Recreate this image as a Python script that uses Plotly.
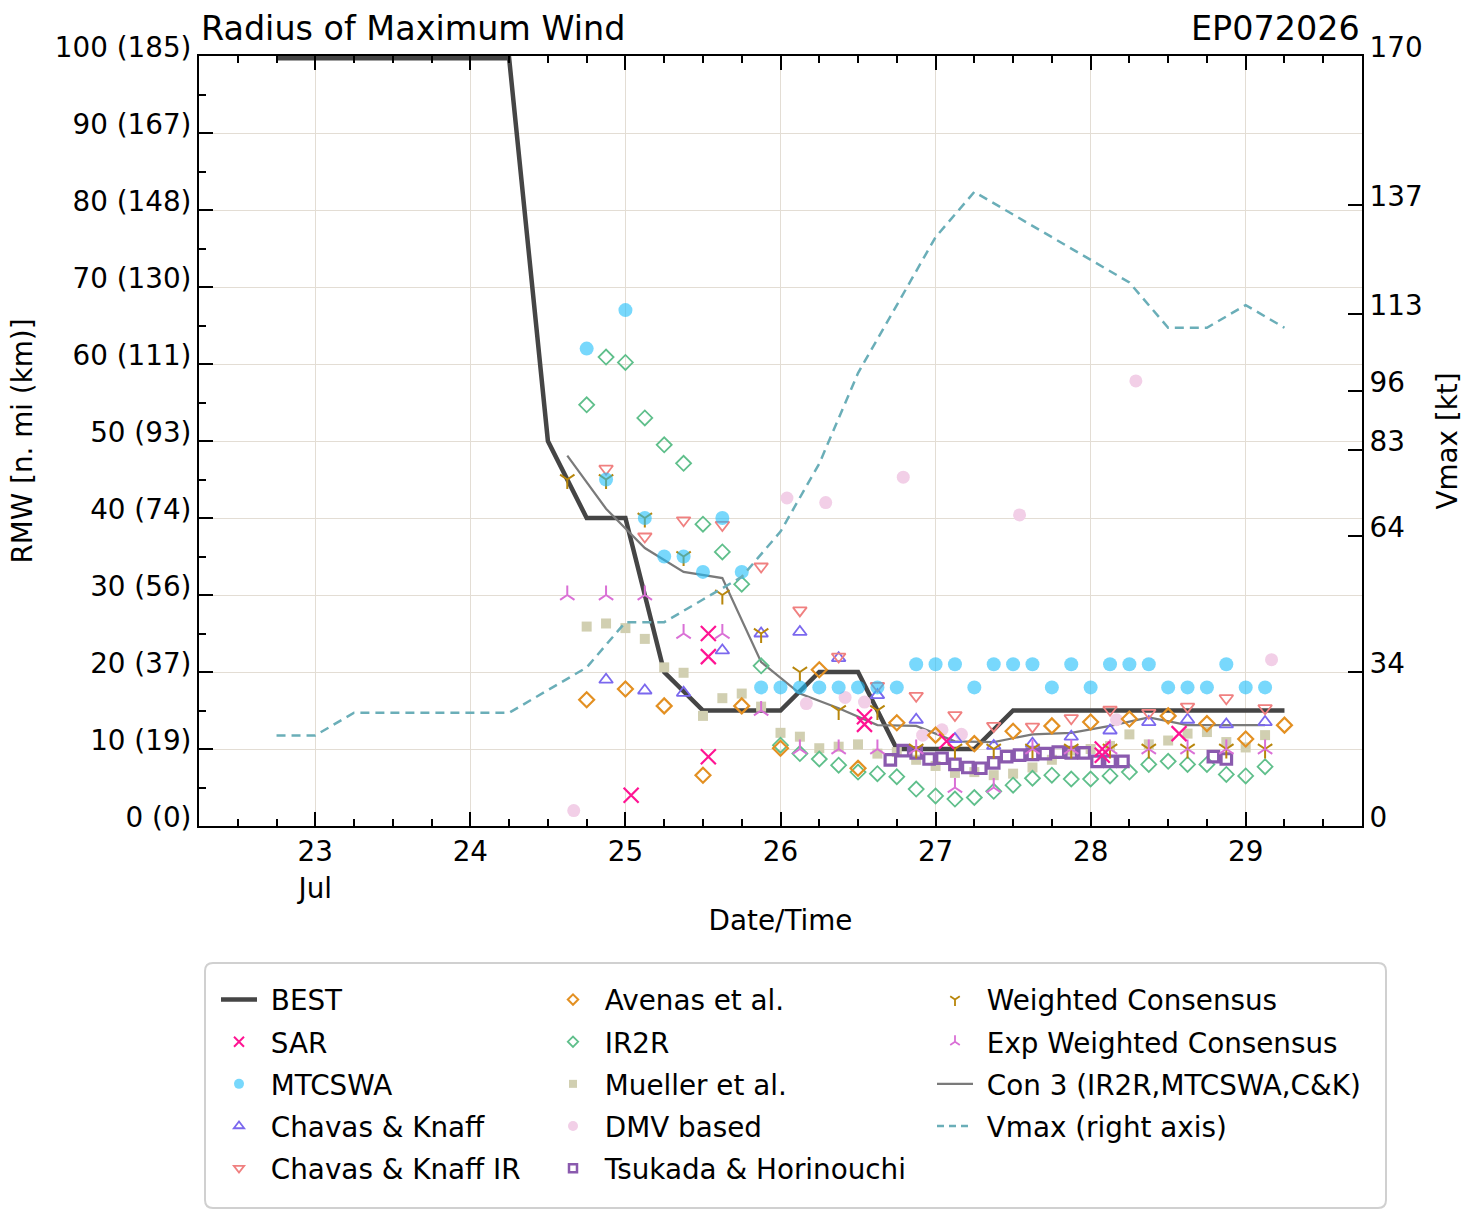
import pandas as pd
import plotly.graph_objects as go

# ---------------- data (day of July 2026, fractional) ----------------
best_t = [22.75, 23.0, 23.25, 23.5, 23.75, 24.0, 24.25, 24.5, 24.75, 25.0, 25.25, 25.5, 25.75,
          26.0, 26.25, 26.5, 26.75, 27.0, 27.25, 27.5, 27.75, 28.0, 28.25, 28.5, 28.75, 29.0, 29.25]
best_rmw = [99.7, 99.7, 99.7, 99.7, 99.7, 99.7, 99.7, 50, 40, 40, 20, 15, 15,
            15, 20, 20, 10, 10, 10, 15, 15, 15, 15, 15, 15, 15, 15]
vmax_kt = [20, 20, 25, 25, 25, 25, 25, 30, 35, 45, 45, 50, 55,
           65, 80, 100, 115, 130, 140, 135, 130, 125, 120, 110, 110, 115, 110]

sar_t = [25.037, 25.535, 25.535, 25.535, 26.542, 26.542, 27.071, 28.075, 28.075, 28.57]
sar_rmw = [4.0, 25.0, 22.0, 9.0, 14.2, 13.2, 11.0, 10.0, 9.2, 12.0]

mtc_t = [24.75, 24.875, 25.0, 25.125, 25.25, 25.375, 25.5, 25.625, 25.75, 25.875, 26.0, 26.125,
         26.25, 26.375, 26.5, 26.625, 26.75, 26.875, 27.0, 27.125, 27.25, 27.375, 27.5, 27.625,
         27.75, 27.875, 28.0, 28.125, 28.25, 28.375, 28.5, 28.625, 28.75, 28.875, 29.0, 29.125]
mtc_rmw = [62, 45, 67, 40, 35, 35, 33, 40, 33, 18, 18, 18,
           18, 18, 18, 18, 18, 21, 21, 21, 18, 21, 21, 21,
           18, 21, 18, 21, 21, 21, 18, 18, 18, 21, 18, 18]

ck_t = [24.875, 25.125, 25.375, 25.625, 25.875, 26.125, 26.375, 26.625, 26.875, 27.125,
        27.375, 27.625, 27.875, 28.125, 28.375, 28.625, 28.875, 29.125]
ck_rmw = [19.0, 17.6, 17.3, 22.8, 25.0, 25.2, 21.8, 17.0, 13.8, 11.3,
          10.4, 10.7, 11.6, 12.4, 13.5, 13.8, 13.2, 13.5]

ckir_t = ck_t
ckir_rmw = [46.4, 37.6, 39.7, 39.1, 33.7, 28.0, 22.0, 18.2, 16.9, 14.4,
            13.0, 12.9, 14.0, 15.1, 14.7, 15.5, 16.6, 15.3]

aven_t = [24.75, 25.0, 25.25, 25.5, 25.75, 26.0, 26.25, 26.5, 26.75, 27.0, 27.25, 27.5,
          27.75, 28.0, 28.25, 28.5, 28.75, 29.0, 29.25]
aven_rmw = [16.4, 17.8, 15.6, 6.6, 15.6, 10.1, 20.3, 7.5, 13.4, 11.8, 10.7, 12.3,
            13.0, 13.5, 13.9, 14.3, 13.3, 11.3, 13.1]

ir2r_t = [24.75, 24.875, 25.0, 25.125, 25.25, 25.375, 25.5, 25.625, 25.75, 25.875, 26.0, 26.125,
          26.25, 26.375, 26.5, 26.625, 26.75, 26.875, 27.0, 27.125, 27.25, 27.375, 27.5, 27.625,
          27.75, 27.875, 28.0, 28.125, 28.25, 28.375, 28.5, 28.625, 28.75, 28.875, 29.0, 29.125]
ir2r_rmw = [54.7, 60.9, 60.2, 53.0, 49.5, 47.1, 39.2, 35.6, 31.4, 20.8, 10.5, 9.4,
            8.7, 7.9, 7.0, 6.8, 6.4, 4.8, 3.9, 3.5, 3.7, 4.5, 5.3, 6.2,
            6.6, 6.1, 6.1, 6.5, 7.0, 8.0, 8.4, 8.0, 8.0, 6.7, 6.5, 7.7]

muel_t = [24.75, 24.875, 25.0, 25.125, 25.25, 25.375, 25.5, 25.625, 25.75, 25.875, 26.0, 26.125,
          26.25, 26.375, 26.5, 26.625, 26.75, 26.875, 27.0, 27.125, 27.25, 27.375, 27.5, 27.625,
          27.75, 27.875, 28.0, 28.125, 28.25, 28.375, 28.5, 28.625, 28.75, 28.875, 29.0, 29.125]
muel_rmw = [25.9, 26.3, 25.7, 24.3, 20.6, 19.9, 14.3, 16.6, 17.2, 15.5, 12.1, 11.6,
            10.1, 10.3, 10.6, 9.4, 9.6, 8.6, 7.8, 6.9, 7.0, 6.6, 6.8, 7.6,
            8.6, 9.8, 10.0, 10.4, 11.9, 10.6, 11.1, 12.0, 12.2, 10.9, 10.2, 11.8]

dmv_t = [24.667, 26.042, 26.167, 26.292, 26.417, 26.542, 26.792, 26.917, 27.042, 27.167,
         27.542, 28.167, 28.292, 29.167]
dmv_rmw = [2.0, 42.6, 15.9, 42.0, 16.7, 16.1, 45.3, 11.8, 12.5, 11.9,
           40.4, 13.8, 57.8, 21.6]

tsuk_t = [26.708, 26.792, 26.875, 26.958, 27.042, 27.125, 27.208, 27.292, 27.375, 27.458,
          27.542, 27.625, 27.708, 27.792, 27.875, 27.958, 28.042, 28.125, 28.208, 28.792, 28.875]
tsuk_rmw = [8.6, 9.8, 9.5, 8.7, 8.8, 8.0, 7.6, 7.5, 8.2, 9.0,
            9.2, 9.3, 9.4, 9.6, 9.5, 9.5, 8.4, 8.4, 8.4, 9.0, 8.7]

cons_t = [24.625, 24.875, 25.125, 25.375, 25.625, 25.875, 26.125, 26.375, 26.625, 26.875,
          27.125, 27.375, 27.625, 27.875, 28.125, 28.375, 28.625, 28.875, 29.125]
wcons_rmw = [45, 45, 40, 35, 30, 25, 20, 15, 15, 10,
             10, 10, 10, 10, 10, 10, 10, 10, 10]
ewcons_rmw = [30, 30, 30, 25, 25, 15, 10, 10, 10, 10,
              5, 5, 10, 10, 10, 10, 10, 10, 10]
con3_rmw = [48.1, 41.2, 36.1, 33.0, 32.2, 21.3, 17.2, 15.3, 13.1, 13.0,
            11.0, 10.9, 11.9, 12.1, 13.0, 14.1, 13.1, 13.1, 13.1]

x_days = [23, 24, 25, 26, 27, 28, 29]
x_ticktext = ["23<br>Jul", "24", "25", "26", "27", "28", "29"]
y_ticks = [0, 10, 20, 30, 40, 50, 60, 70, 80, 90, 100]
y_ticktext = ["0 (0)", "10 (19)", "20 (37)", "30 (56)", "40 (74)", "50 (93)", "60 (111)",
              "70 (130)", "80 (148)", "90 (167)", "100 (185)"]
v_ticks = [0, 34, 64, 83, 96, 113, 137, 170]


def dt(days):
    base = pd.Timestamp("2026-07-01")
    return [base + pd.Timedelta(minutes=round((d - 1) * 1440)) for d in days]


FONT = "DejaVu Sans"
FS = 27.8
C = dict(best="#454545", sar="#ff1493", mtc="rgba(30,190,250,0.6)", ck="#7b68ee",
         ckir="#f08080", aven="#e39022", ir2r="#5fbf8b", muel="#d1cfb1", dmv="#f2cfe7",
         tsuk="#8a5aae", wc="#b8860b", ewc="#da70d6", con3="#7a7a7a", vmax="#6aaeb8")

fig = go.Figure()


def sc(x, y, **kw):
    fig.add_trace(go.Scatter(x=dt(x), y=y, showlegend=False, hoverinfo="skip", **kw))


sc(best_t, best_rmw, mode="lines", line=dict(color=C["best"], width=4.5))
sc(cons_t, con3_rmw, mode="lines", line=dict(color=C["con3"], width=2.2))
sc(muel_t, muel_rmw, mode="markers", marker=dict(symbol="square", size=10, color=C["muel"]))
sc(dmv_t, dmv_rmw, mode="markers", marker=dict(symbol="circle", size=13, color=C["dmv"]))
sc(ir2r_t, ir2r_rmw, mode="markers",
   marker=dict(symbol="diamond-open", size=11.5, color=C["ir2r"], line=dict(width=1.8, color=C["ir2r"])))
sc(aven_t, aven_rmw, mode="markers",
   marker=dict(symbol="diamond-open", size=11.5, color=C["aven"], line=dict(width=2.2, color=C["aven"])))
sc(ck_t, ck_rmw, mode="markers",
   marker=dict(symbol="triangle-up-open", size=12, color=C["ck"], line=dict(width=1.8, color=C["ck"])))
sc(ckir_t, ckir_rmw, mode="markers",
   marker=dict(symbol="triangle-down-open", size=12, color=C["ckir"], line=dict(width=1.8, color=C["ckir"])))
sc(tsuk_t, tsuk_rmw, mode="markers",
   marker=dict(symbol="square-open", size=10.5, color=C["tsuk"], line=dict(width=3.2, color=C["tsuk"])))
sc(cons_t, wcons_rmw, mode="markers",
   marker=dict(symbol="y-down", size=12, color=C["wc"], line=dict(width=2, color=C["wc"])))
sc(cons_t, ewcons_rmw, mode="markers",
   marker=dict(symbol="y-up", size=12, color=C["ewc"], line=dict(width=2, color=C["ewc"])))
sc(mtc_t, mtc_rmw, mode="markers", marker=dict(symbol="circle", size=14, color=C["mtc"]))
sc(sar_t, sar_rmw, mode="markers",
   marker=dict(symbol="x-thin", size=15, color=C["sar"], line=dict(width=2.2, color=C["sar"])))
sc(best_t, vmax_kt, mode="lines", yaxis="y2", line=dict(color=C["vmax"], width=2.5, dash="9px,6px"))

# ---------------- legend entries (three columns) ----------------
NB = "\u00a0"
legend_items = [
    ("legend", "BEST", dict(mode="lines", line=dict(color=C["best"], width=4.5))),
    ("legend", "SAR", dict(mode="markers", marker=dict(symbol="x-thin", size=10, color=C["sar"], line=dict(width=2, color=C["sar"])))),
    ("legend", "MTCSWA", dict(mode="markers", marker=dict(symbol="circle", size=10, color=C["mtc"]))),
    ("legend", "Chavas & Knaff", dict(mode="markers", marker=dict(symbol="triangle-up-open", size=9, color=C["ck"], line=dict(width=1.8, color=C["ck"])))),
    ("legend", "Chavas & Knaff IR", dict(mode="markers", marker=dict(symbol="triangle-down-open", size=9, color=C["ckir"], line=dict(width=1.8, color=C["ckir"])))),
    ("legend2", "Avenas et al.", dict(mode="markers", marker=dict(symbol="diamond-open", size=8, color=C["aven"], line=dict(width=2, color=C["aven"])))),
    ("legend2", "IR2R", dict(mode="markers", marker=dict(symbol="diamond-open", size=8, color=C["ir2r"], line=dict(width=1.8, color=C["ir2r"])))),
    ("legend2", "Mueller et al.", dict(mode="markers", marker=dict(symbol="square", size=8, color=C["muel"]))),
    ("legend2", "DMV based", dict(mode="markers", marker=dict(symbol="circle", size=10, color=C["dmv"]))),
    ("legend2", "Tsukada & Horinouchi", dict(mode="markers", marker=dict(symbol="square-open", size=8, color=C["tsuk"], line=dict(width=2.5, color=C["tsuk"])))),
    ("legend3", "Weighted Consensus", dict(mode="markers", marker=dict(symbol="y-down", size=8, color=C["wc"], line=dict(width=1.8, color=C["wc"])))),
    ("legend3", "Exp Weighted Consensus", dict(mode="markers", marker=dict(symbol="y-up", size=8, color=C["ewc"], line=dict(width=1.8, color=C["ewc"])))),
    ("legend3", "Con 3 (IR2R,MTCSWA,C&K)", dict(mode="lines", line=dict(color=C["con3"], width=2.2))),
    ("legend3", "Vmax (right axis)", dict(mode="lines", line=dict(color=C["vmax"], width=2.5, dash="7px,5px"))),
]
for i, (lg, name, kw) in enumerate(legend_items):
    fig.add_trace(go.Scatter(x=[None], y=[None], name=NB + name, legend=lg, legendgroup=f"g{i}",
                             showlegend=True, hoverinfo="skip", **kw))

W, H = 1477, 1222
L, R, T, B = 199, 115, 56, 396
pw, ph = W - L - R, H - T - B


def px_x(px):
    return (px - L) / pw


def px_y(py):
    return (H - B - py) / ph


leg_common = dict(font=dict(family=FONT, size=FS, color="black"), bgcolor="rgba(0,0,0,0)",
                  borderwidth=0, tracegroupgap=3, traceorder="grouped", xanchor="left",
                  yanchor="top", itemclick=False, itemdoubleclick=False, itemwidth=36)

grid = "#e3ddd4"
fig.update_layout(
    width=W, height=H,
    margin=dict(l=L, r=R, t=T, b=B, autoexpand=False),
    paper_bgcolor="white", plot_bgcolor="white",
    font=dict(family=FONT, size=FS, color="black"),
    showlegend=True,
    legend=dict(x=px_x(216), y=px_y(975), **leg_common),
    legend2=dict(x=px_x(550), y=px_y(975), **leg_common),
    legend3=dict(x=px_x(932), y=px_y(975), **leg_common),
    xaxis=dict(
        type="date", range=dt([22.25, 29.75]), tickvals=dt(x_days), ticktext=x_ticktext,
        ticks="inside", ticklen=14, tickwidth=2, tickcolor="black",
        showline=True, linewidth=2, linecolor="black", mirror="ticks",
        showgrid=True, gridcolor=grid, gridwidth=1, zeroline=False,
        tickfont=dict(size=FS), automargin=False,
        minor=dict(ticks="inside", ticklen=7, tickwidth=1.5, tickcolor="black",
                   tick0=dt([22.0])[0], dtick=6 * 3600 * 1000, showgrid=False),
        title=dict(text="Date/Time", font=dict(size=FS), standoff=7),
    ),
    yaxis=dict(
        range=[0, 100], tickvals=y_ticks, ticktext=y_ticktext,
        ticks="inside", ticklen=14, tickwidth=2, tickcolor="black",
        showline=True, linewidth=2, linecolor="black", mirror=False,
        showgrid=True, gridcolor=grid, gridwidth=1, zeroline=False,
        tickfont=dict(size=FS), automargin=False, ticklabelshift=-9,
        minor=dict(ticks="inside", ticklen=7, tickwidth=1.5, tickcolor="black",
                   tick0=0, dtick=5, showgrid=False),
        title=dict(text="RMW [n. mi (km)]", font=dict(size=FS), standoff=14),
    ),
    yaxis2=dict(
        overlaying="y", side="right", anchor="x", range=[0, 170], tickvals=v_ticks,
        ticktext=[str(v) for v in v_ticks],
        ticks="inside", ticklen=14, tickwidth=2, tickcolor="black",
        showline=True, linewidth=2, linecolor="black", showgrid=False, zeroline=False,
        tickfont=dict(size=FS), automargin=False, ticklabelshift=-9,
        title=dict(text="Vmax [kt]", font=dict(size=FS), standoff=16),
    ),
    annotations=[
        dict(text="Radius of Maximum Wind", xref="paper", yref="paper", x=0, y=1,
             xanchor="left", yanchor="bottom", yshift=6, showarrow=False,
             font=dict(size=33.4, family=FONT, color="black")),
        dict(text="EP072026", xref="paper", yref="paper", x=1, y=1,
             xanchor="right", yanchor="bottom", yshift=6, showarrow=False,
             font=dict(size=33.4, family=FONT, color="black")),
    ],
)

# legend frame (rounded rectangle)
x0, x1, y0, y1 = px_x(205), px_x(1386), px_y(1208), px_y(963)
rx, ry = 8 / pw, 8 / ph
path = (f"M{x0 + rx},{y1} L{x1 - rx},{y1} Q{x1},{y1} {x1},{y1 - ry} "
        f"L{x1},{y0 + ry} Q{x1},{y0} {x1 - rx},{y0} L{x0 + rx},{y0} "
        f"Q{x0},{y0} {x0},{y0 + ry} L{x0},{y1 - ry} Q{x0},{y1} {x0 + rx},{y1} Z")
fig.add_shape(type="path", path=path, xref="paper", yref="paper",
              line=dict(color="#d0d0d0", width=2), fillcolor="rgba(255,255,255,0)", layer="below")

fig.write_html("out.html")
